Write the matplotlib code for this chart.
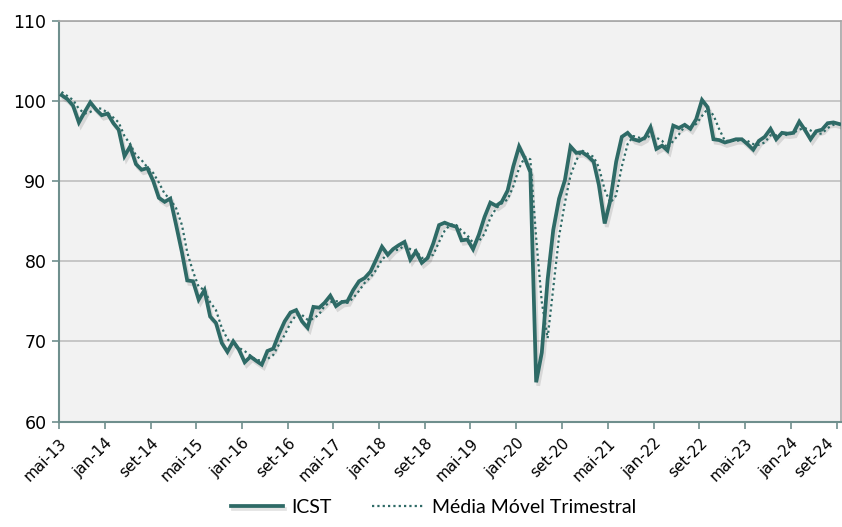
import matplotlib
matplotlib.use("Agg")
import matplotlib.pyplot as plt
import matplotlib.patheffects as pe
import pandas as pd

# dados mensais mai-13 .. set-24
icst = [100.7, 100.2, 99.4, 97.3, 98.6, 99.8, 98.9, 98.2, 98.4, 97.2,
        96.4, 93.1, 94.3, 92.1, 91.4, 91.6, 90.0, 87.9, 87.4, 87.8,
        84.5, 81.1, 77.6, 77.5, 75.2, 76.4, 73.1, 72.3, 69.8, 68.7,
        70.0, 69.0, 67.4, 68.1, 67.6, 67.1, 68.8, 69.1, 70.9, 72.5,
        73.6, 73.9, 72.5, 71.7, 74.3, 74.2, 74.8, 75.7, 74.4, 74.9,
        75.0, 76.4, 77.5, 77.9, 78.7, 80.2, 81.8, 80.8, 81.5, 82.0,
        82.4, 80.2, 81.2, 79.8, 80.4, 82.2, 84.5, 84.8, 84.5, 84.3,
        82.6, 82.7, 81.5, 83.3, 85.5, 87.3, 86.9, 87.4, 88.8, 91.8,
        94.3, 92.8, 91.1, 64.9, 68.6, 77.7, 83.9, 87.8, 90.1, 94.3,
        93.5, 93.6, 93.1, 92.4, 89.5, 84.7, 87.6, 92.4, 95.5, 96.0,
        95.2, 95.0, 95.4, 96.7, 94.0, 94.4, 93.8, 96.9, 96.6, 97.0,
        96.5, 97.7, 100.1, 99.2, 95.2, 95.1, 94.8, 95.0, 95.2, 95.2,
        94.6, 93.9, 95.0, 95.5, 96.5, 95.2, 96.0, 95.9, 96.0, 97.4,
        96.4, 95.2, 96.2, 96.4, 97.2, 97.3, 97.1]

media_movel = [101.1, 100.6, 100.1, 99.0, 98.4, 98.6, 99.1, 99.0, 98.5, 97.9,
               97.3, 95.6, 94.6, 93.2, 92.6, 91.7, 91.0, 89.8, 88.4, 87.7,
               86.6, 84.5, 81.1, 78.7, 76.8, 76.4, 74.9, 73.9, 71.7, 70.3,
               69.5, 69.2, 68.8, 68.2, 67.7, 67.6, 67.8, 68.3, 69.6, 70.8,
               72.3, 73.3, 73.3, 72.7, 72.8, 73.4, 74.4, 74.9, 75.0, 75.0,
               74.8, 75.4, 76.3, 77.3, 78.0, 78.9, 80.2, 80.9, 81.4, 81.4,
               82.0, 81.5, 81.3, 80.4, 80.5, 80.8, 82.4, 83.8, 84.6, 84.5,
               83.8, 83.2, 82.3, 82.5, 83.4, 85.4, 86.6, 87.2, 87.7, 89.3,
               91.6, 93.0, 92.7, 82.9, 74.9, 70.4, 76.7, 83.1, 87.3, 90.7,
               92.6, 93.8, 93.4, 93.0, 91.7, 88.9, 87.3, 88.2, 91.8, 94.6,
               95.6, 95.4, 95.2, 95.7, 95.4, 95.0, 94.1, 95.0, 95.8, 96.8,
               96.7, 97.1, 98.1, 99.0, 98.2, 96.5, 95.0, 95.0, 95.0, 95.1,
               95.0, 94.6, 94.5, 94.8, 95.7, 95.7, 95.9, 95.7, 96.0, 96.4,
               96.6, 96.3, 95.9, 95.9, 96.6, 97.0, 97.2]

meses_pt = ["jan", "fev", "mar", "abr", "mai", "jun",
            "jul", "ago", "set", "out", "nov", "dez"]

meses = pd.date_range("2013-05-01", periods=len(icst), freq="MS")
datas = meses + pd.Timedelta(days=14)
ticks = pd.date_range("2013-05-01", "2024-09-01", freq="8MS")
tick_labels = [f"{meses_pt[d.month - 1]}-{d.strftime('%y')}" for d in ticks]

cor = "#2e6a66"
eixo = "#6f8f8d"

fig = plt.figure(figsize=(8.42, 5.27), dpi=100)
ax = fig.add_axes([0.070, 0.200, 0.929, 0.761])
ax.set_facecolor("#f2f2f2")

sombra = [pe.SimpleLineShadow(offset=(1.5, -2.5), shadow_color="black", alpha=0.11),
          pe.Normal()]
ax.plot(datas, icst, color=cor, lw=2.7, label="ICST", solid_joinstyle="miter",
        path_effects=sombra, zorder=3)
ax.plot(datas, media_movel, color=cor, lw=1.6, ls=(0, (1, 1.4)),
        label="Média Móvel Trimestral", zorder=4)

ax.set_ylim(60, 110)
ax.set_yticks([60, 70, 80, 90, 100, 110])
ax.set_xlim(pd.Timestamp("2013-05-01"), pd.Timestamp("2024-09-25"))
ax.set_xticks(ticks)
ax.set_xticklabels(tick_labels, rotation=45, ha="right", rotation_mode="anchor")
# ultimo rotulo encostado na borda: alinhar pela caixa girada
ax.get_xticklabels()[-1].set_rotation_mode("default")

ax.grid(axis="y", color="#bfbfbf", lw=1.2, zorder=1)
ax.set_axisbelow(True)
for s in ["top", "right"]:
    ax.spines[s].set_color("#a6a6a6")
    ax.spines[s].set_linewidth(1.2)
for s in ["left", "bottom"]:
    ax.spines[s].set_color(eixo)
    ax.spines[s].set_linewidth(1.5)

ax.tick_params(axis="both", colors=eixo, length=5, width=1.2)
ax.tick_params(axis="y", labelsize=12.5, labelcolor="black", pad=4)
ax.tick_params(axis="x", labelsize=11, labelcolor="black", pad=5)

fig.legend(loc="lower center", bbox_to_anchor=(0.515, -0.012), ncol=2,
           frameon=False, handlelength=2.7, handletextpad=0.4,
           columnspacing=2.1, prop={"family": "Lato", "size": 14})

fig.savefig("out.png", dpi=100, facecolor="white")
